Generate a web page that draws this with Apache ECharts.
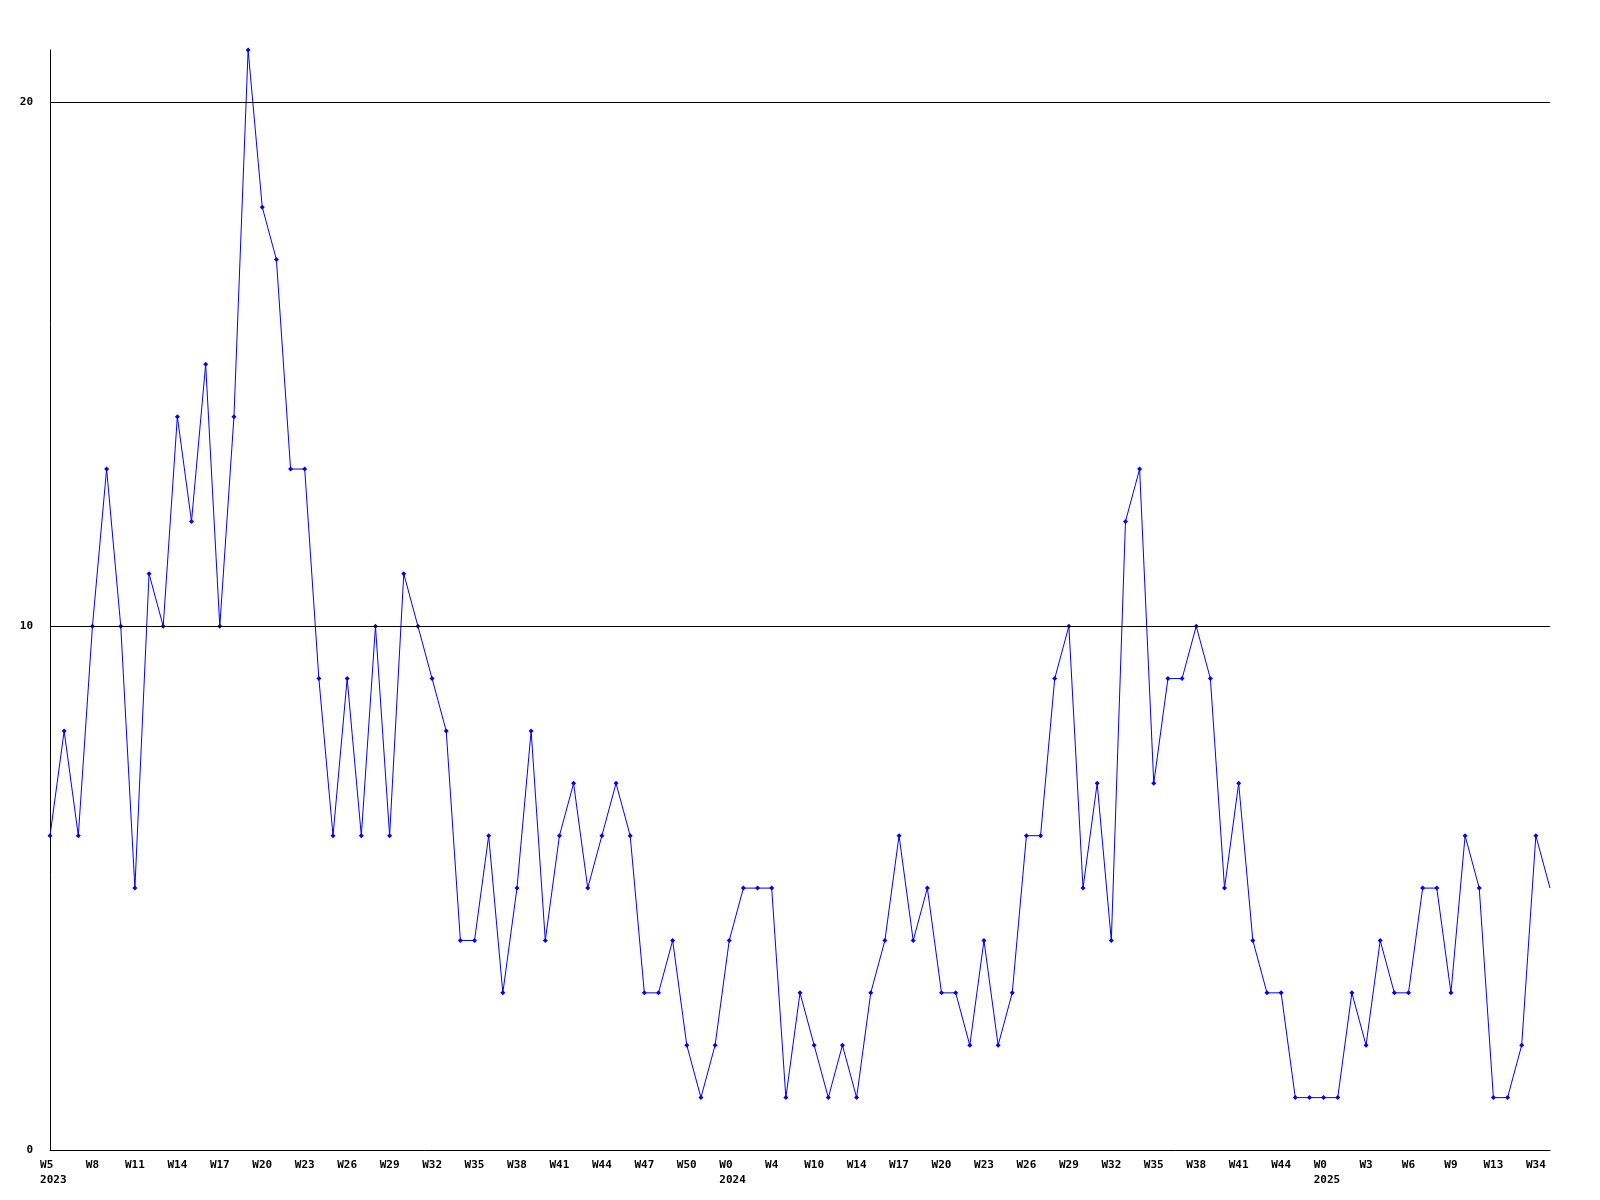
<!DOCTYPE html>
<html>
<head>
<meta charset="utf-8">
<script src="https://cdn.jsdelivr.net/npm/echarts@6/dist/echarts.min.js"></script>
<style>
html,body{margin:0;padding:0;background:#fff;}
#chart{width:1600px;height:1200px;}
</style>
</head>
<body>
<div id="chart"></div>
<script>
// Week categories (year + week); only every third label is shown
const categories = [
  '2023 W5','2023 W6','2023 W7','2023 W8','2023 W9','2023 W10','2023 W11','2023 W12','2023 W13','2023 W14',
  '2023 W15','2023 W16','2023 W17','2023 W18','2023 W19','2023 W20','2023 W21','2023 W22','2023 W23','2023 W24',
  '2023 W25','2023 W26','2023 W27','2023 W28','2023 W29','2023 W30','2023 W31','2023 W32','2023 W33','2023 W34',
  '2023 W35','2023 W36','2023 W37','2023 W38','2023 W39','2023 W40','2023 W41','2023 W42','2023 W43','2023 W44',
  '2023 W45','2023 W46','2023 W47','2023 W48','2023 W49','2023 W50','2023 W51','2023 W52',
  '2024 W0','2024 W2','2024 W3','2024 W4','2024 W5','2024 W7','2024 W10','2024 W12','2024 W13','2024 W14',
  '2024 W15','2024 W16','2024 W17','2024 W18','2024 W19','2024 W20','2024 W21','2024 W22','2024 W23','2024 W24',
  '2024 W25','2024 W26','2024 W27','2024 W28','2024 W29','2024 W30','2024 W31','2024 W32','2024 W33','2024 W34',
  '2024 W35','2024 W36','2024 W37','2024 W38','2024 W39','2024 W40','2024 W41','2024 W42','2024 W43','2024 W44',
  '2024 W47','2024 W50',
  '2025 W0','2025 W1','2025 W2','2025 W3','2025 W4','2025 W5','2025 W6','2025 W7','2025 W8','2025 W9',
  '2025 W11','2025 W12','2025 W13','2025 W20','2025 W30','2025 W34','2025 W35'
];

const values = [
  6,8,6,10,13,10,5,11,10,14,
  12,15,10,14,21,18,17,13,13,9,
  6,9,6,10,6,11,10,9,8,4,
  4,6,3,5,8,4,6,7,5,6,
  7,6,3,3,4,2,1,2,4,5,
  5,5,1,3,2,1,2,1,3,4,
  6,4,5,3,3,2,4,2,3,6,
  6,9,10,5,7,4,12,13,7,9,
  9,10,9,5,7,4,3,3,1,1,
  1,1,3,2,4,3,3,5,5,3,
  6,5,1,1,2,6,5
];

const gridValues = [10, 20];

const chart = echarts.init(document.getElementById('chart'));
const FONT = 'DejaVu Sans Mono';

const seriesData = values.map((v, i) => i === values.length - 1 ? {value: v, symbol: 'none'} : v);

chart.setOption({
  animation: false,
  backgroundColor: '#ffffff',
  grid: {left: 50, right: 50, top: 50, bottom: 50, containLabel: false},
  xAxis: {
    type: 'category',
    data: categories,
    boundaryGap: false,
    axisLine: {show: true, lineStyle: {color: '#000', width: 1}},
    axisTick: {show: false},
    splitLine: {show: false},
    axisLabel: {
      interval: 2,
      margin: 8,
      color: '#000',
      fontFamily: FONT,
      fontWeight: 'bold',
      fontSize: 11,
      lineHeight: 15,
      formatter: function (val, idx) {
        const parts = val.split(' ');
        const year = parts[0], week = parts[1];
        const prev = idx > 0 ? categories[idx - 1].split(' ')[0] : null;
        if (prev !== year) {
          const w = (week + '    ').slice(0, 4);
          return '\u00a0' + w + '\n\u00a0' + year;
        }
        return week;
      }
    }
  },
  yAxis: {
    type: 'value',
    min: 0,
    max: 21,
    interval: 10,
    axisLine: {show: true, lineStyle: {color: '#000', width: 1}},
    axisTick: {show: false},
    splitLine: {show: false},
    axisLabel: {
      margin: 17,
      color: '#000',
      fontFamily: FONT,
      fontWeight: 'bold',
      fontSize: 11,
      formatter: function (v) { return v % 10 === 0 ? String(v) : ''; }
    }
  },
  series: [{
    type: 'line',
    data: seriesData,
    symbol: 'diamond',
    symbolSize: 5,
    showAllSymbol: true,
    lineStyle: {color: '#0000ff', width: 1},
    itemStyle: {color: '#0000ff'},
    markLine: {
      silent: true,
      symbol: ['none', 'none'],
      label: {show: false},
      lineStyle: {color: '#000', width: 1, type: 'solid'},
      data: gridValues.map(v => ({yAxis: v}))
    },
    z: 3
  }]
});
</script>
</body>
</html>
